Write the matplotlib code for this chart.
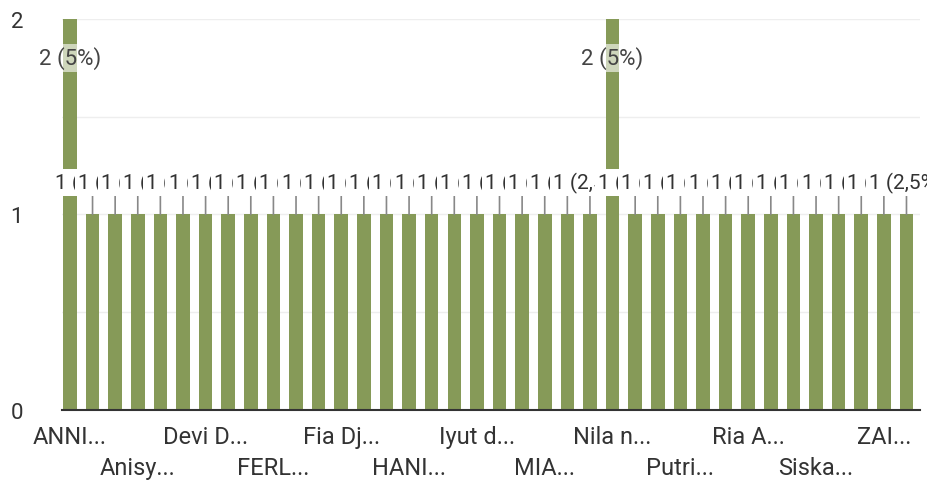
#!/usr/bin/env python3

import matplotlib.pyplot as plt

plt.rcParams['font.family'] = ['Roboto', 'DejaVu Sans']

# responses per name (38 bars, total 40)
counts = [2, 1, 1, 1, 1, 1, 1, 1, 1, 1, 1, 1, 1, 1, 1, 1, 1, 1, 1,
          1, 1, 1, 1, 1, 2, 1, 1, 1, 1, 1, 1, 1, 1, 1, 1, 1, 1, 1]
# only every third name is shown on the axis
tick_labels = ["ANNI...", "Anisy...", "Devi D...", "FERL...", "Fia Dj...",
               "HANI...", "Iyut d...", "MIA...", "Nila n...", "Putri...",
               "Ria A...", "Siska...", "ZAI..."]
total = sum(counts)

green = "#869a58"

fig = plt.figure(figsize=(9.27, 4.85), dpi=100)
ax = fig.add_axes([0.0669, 0.1526, 0.9256, 0.8062])

x = list(range(len(counts)))
ax.bar(x, counts, width=0.6, color=green, zorder=2)

for i, v in enumerate(counts):
    pct = f"{100 * v / total:g}".replace(".", ",")
    txt = f"{v} ({pct}%)"
    if v == 2:
        ax.annotate(txt, (i, v), xytext=(0, -28), textcoords="offset points",
                    ha="center", va="center", fontsize=16, color="#444444",
                    bbox=dict(boxstyle="square,pad=0.1", fc="white", ec="none", alpha=0.6),
                    zorder=5)
    else:
        ax.annotate(txt, (i, v), xytext=(0, 23), textcoords="offset points",
                    ha="center", va="center", fontsize=15, color="#333333",
                    bbox=dict(boxstyle="square,pad=0.15", fc="white", ec="none"),
                    arrowprops=dict(arrowstyle="-", color="#888888", lw=1.2,
                                    shrinkA=0, shrinkB=0),
                    zorder=10 + i, annotation_clip=False)

ax.set_xlim(-0.35, 37.6)
ax.set_ylim(0, 2)
ax.set_yticks([0, 1, 2])
ax.set_yticks([0.5, 1.5], minor=True)
ax.grid(axis="y", which="both", color="#eeeeee", lw=1, zorder=0)

ticks = x[::3]
labels = [lab if k % 2 == 0 else "\n" + lab for k, lab in enumerate(tick_labels)]
ax.set_xticks(ticks)
ax.set_xticklabels(labels, fontsize=17, color="#333333", linespacing=1.45)
ax.tick_params(axis="x", length=0, pad=11)
ax.tick_params(axis="y", which="both", length=0, pad=28, labelsize=16, labelcolor="#333333")

for s in ["top", "right", "left"]:
    ax.spines[s].set_visible(False)
ax.spines["bottom"].set_color("#333333")
ax.spines["bottom"].set_linewidth(1.5)

fig.savefig("out.png", dpi=100)
